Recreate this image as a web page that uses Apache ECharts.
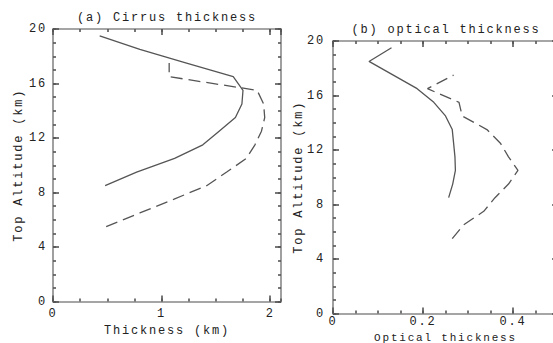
<!DOCTYPE html>
<html>
<head>
<meta charset="utf-8">
<script src="https://cdn.jsdelivr.net/npm/echarts@6/dist/echarts.min.js"></script>
<style>
html,body{margin:0;padding:0;background:#fff;}
#c{width:553px;height:343px;}
#c text{letter-spacing:1.8px;}
</style>
</head>
<body>
<div id="c"></div>
<script>
// ---- data ----
const titleA = '(a) Cirrus thickness';
const titleB = '(b) optical thickness';
const xNameA = 'Thickness (km)';
const xNameB = 'Optical thickness';
const yName = 'Top Altitude (km)';

const altSolid = [8.5, 9.5, 10.5, 11.5, 12.5, 13.5, 14.5, 15.5, 16.5, 17.5, 18.5, 19.5];
const altDashed = [5.5, 6.5, 7.5, 8.5, 9.5, 10.5, 11.5, 12.5, 13.5, 14.5, 15.5, 16.5, 17.5];

const thickSolid = [0.48, 0.77, 1.12, 1.38, 1.53, 1.68, 1.74, 1.75, 1.66, 1.23, 0.80, 0.43];
const thickDashed = [0.49, 0.80, 1.11, 1.415, 1.60, 1.78, 1.86, 1.92, 1.95, 1.94, 1.88, 1.07, 1.07];

const optSolid = [0.257, 0.266, 0.272, 0.271, 0.268, 0.265, 0.25, 0.224, 0.187, 0.134, 0.08, 0.13];
const optDashed = [0.265, 0.29, 0.335, 0.36, 0.39, 0.411, 0.39, 0.372, 0.342, 0.287, 0.28, 0.21, 0.268];

// axis ranges and tick steps
const xMaxA = 2.1, xStepA = 1, xMinorStepA = 0.25;
const xMaxB = 0.5, xStepB = 0.2, xMinorStepB = 0.05;
const yMax = 20, yStep = 4, yMinorStep = 1;

// ---- styling ----
const FONT = 'Liberation Mono';
const TXT = '#222';
const FRAME = '#888';
const TICK = '#555';
const LINE = '#555';

function pairs(xs, ys) { return xs.map((x, i) => [x, ys[i]]); }

function axis(g, pos, max, step, minor, withLabel, name, nameGap, labelMargin, nameSize) {
  const a = {
    type: 'value', gridIndex: g, position: pos, min: 0, max: max, interval: step,
    splitLine: { show: false },
    axisLine: minor ? { show: false, onZero: false }
                    : { show: true, onZero: false, lineStyle: { color: FRAME, width: 1.6 } },
    axisTick: { show: true, inside: true, length: minor ? 3 : 6, lineStyle: { color: TICK, width: 1.6 } },
    axisLabel: { show: false }
  };
  if (withLabel) {
    a.axisLabel = {
      show: true, showMaxLabel: (max % step === 0) || pos === 'left',
      fontFamily: FONT, fontSize: 12, color: TXT, margin: labelMargin
    };
    a.name = name;
    a.nameLocation = 'middle';
    a.nameGap = nameGap;
    a.nameTextStyle = { fontFamily: FONT, fontSize: nameSize || 12, color: TXT };
  }
  return a;
}

const xAxes = [
  axis(0, 'bottom', xMaxA, xStepA, false, true, xNameA, 23, 6),
  axis(0, 'bottom', xMaxA, xMinorStepA, true, false),
  axis(0, 'top', xMaxA, xStepA, false, false),
  axis(0, 'top', xMaxA, xMinorStepA, true, false),
  axis(1, 'bottom', xMaxB, xStepB, false, true, xNameB, 13, 2, 11),
  axis(1, 'bottom', xMaxB, xMinorStepB, true, false),
  axis(1, 'top', xMaxB, xStepB, false, false),
  axis(1, 'top', xMaxB, xMinorStepB, true, false)
];
const yAxes = [
  axis(0, 'left', yMax, yStep, false, true, yName, 28, 6),
  axis(0, 'left', yMax, yMinorStep, true, false),
  axis(0, 'right', yMax, yStep, false, false),
  axis(0, 'right', yMax, yMinorStep, true, false),
  axis(1, 'left', yMax, yStep, false, true, yName, 28, 8),
  axis(1, 'left', yMax, yMinorStep, true, false),
  axis(1, 'right', yMax, yStep, false, false),
  axis(1, 'right', yMax, yMinorStep, true, false)
];

function lineSeries(xi, yi, data, dashed) {
  return {
    type: 'line', xAxisIndex: xi, yAxisIndex: yi, data: data,
    showSymbol: false, symbol: 'none', smooth: false, silent: true,
    lineStyle: { color: LINE, width: 1.3, type: dashed ? [12, 6] : 'solid' }
  };
}

const chart = echarts.init(document.getElementById('c'), null, { renderer: 'svg' });
chart.setOption({
  animation: false,
  backgroundColor: '#fff',
  grid: [
    { left: 53, top: 29, right: 272, bottom: 41.5, containLabel: false, outerBoundsMode: 'none' },
    { left: 333, top: 41, right: -5, bottom: 29.5, containLabel: false, outerBoundsMode: 'none' }
  ],
  xAxis: xAxes,
  yAxis: yAxes,
  graphic: [
    { type: 'text', x: 167, y: 18, silent: true,
      style: { text: titleA, fill: TXT, font: '12px "' + FONT + '"', textAlign: 'center', textVerticalAlign: 'middle' } },
    { type: 'text', x: 446, y: 30, silent: true,
      style: { text: titleB, fill: TXT, font: '12px "' + FONT + '"', textAlign: 'center', textVerticalAlign: 'middle' } }
  ],
  series: [
    lineSeries(0, 0, pairs(thickSolid, altSolid), false),
    lineSeries(0, 0, pairs(thickDashed, altDashed), true),
    lineSeries(4, 4, pairs(optSolid, altSolid), false),
    lineSeries(4, 4, pairs(optDashed, altDashed), true)
  ]
});
</script>
</body>
</html>
